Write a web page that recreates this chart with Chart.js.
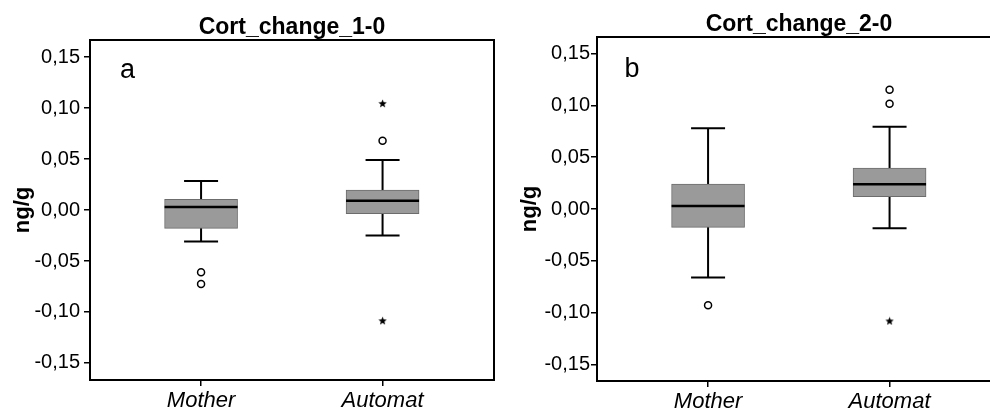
<!DOCTYPE html>
<html>
<head>
<meta charset="utf-8">
<script src="https://cdn.jsdelivr.net/npm/chart.js@4.4.0/dist/chart.umd.min.js"></script>
<style>
  html, body { margin: 0; padding: 0; background: #fff; overflow: hidden; width: 990px; height: 409px; }
  #panelA { position: absolute; left: 0; top: 0; }
  #panelB { position: absolute; left: 495px; top: 0; }
</style>
</head>
<body>
<canvas id="panelA" width="495" height="409"></canvas>
<canvas id="panelB" width="507" height="409"></canvas>
<script>
// ---- datos ----
const categories = ['Mother', 'Automat'];
const yTicks = [-0.15, -0.10, -0.05, 0, 0.05, 0.10, 0.15];

// Panel a: Cort_change_1-0
const aLow = [-0.031, -0.025];
const aQ1 = [-0.018, -0.0035];
const aMedian = [0.003, 0.009];
const aQ3 = [0.0105, 0.0195];
const aHigh = [0.0285, 0.049];
const aCircles = [[0, -0.061], [0, -0.0725], [1, 0.068]];
const aStars = [[1, 0.1045], [1, -0.1085]];

// Panel b: Cort_change_2-0
const bLow = [-0.066, -0.0185];
const bQ1 = [-0.0177, 0.012];
const bMedian = [0.003, 0.024];
const bQ3 = [0.024, 0.0395];
const bHigh = [0.078, 0.0795];
const bCircles = [[0, -0.093], [1, 0.1015], [1, 0.115]];
const bStars = [[1, -0.108]];

const FONT = "'Liberation Sans', Arial, sans-serif";

// estrella rellena de 5 puntas para los valores extremos
const starImg = document.createElement('canvas');
starImg.width = 9;
starImg.height = 9;
(() => {
    const g = starImg.getContext('2d');
    g.fillStyle = '#000';
    g.beginPath();
    for (let k = 0; k < 10; k++) {
        const r = k % 2 === 0 ? 4.4 : 1.9;
        const ang = -Math.PI / 2 + k * Math.PI / 5;
        const px = 4.5 + r * Math.cos(ang);
        const py = 4.9 + r * Math.sin(ang);
        if (k === 0) g.moveTo(px, py); else g.lineTo(px, py);
    }
    g.closePath();
    g.fill();
})();

// bigotes, mediana, marco y letra del panel
function boxPlugin(low, median, high, letter, letterDx, letterBase) {
    return {
        id: 'boxWhiskers',
        beforeDatasetsDraw(chart) {
            const { ctx, scales: { x, y } } = chart;
            ctx.save();
            ctx.strokeStyle = '#000';
            ctx.lineWidth = 2;
            categories.forEach((c, i) => {
                const cx = x.getPixelForValue(i);
                const yl = y.getPixelForValue(low[i]);
                const yh = y.getPixelForValue(high[i]);
                ctx.beginPath();
                ctx.moveTo(cx, yl); ctx.lineTo(cx, yh);
                ctx.moveTo(cx - 17, yl); ctx.lineTo(cx + 17, yl);
                ctx.moveTo(cx - 17, yh); ctx.lineTo(cx + 17, yh);
                ctx.stroke();
            });
            ctx.restore();
        },
        afterDatasetsDraw(chart) {
            const { ctx, scales: { y } } = chart;
            const bars = chart.getDatasetMeta(0).data;
            ctx.save();
            ctx.strokeStyle = '#000';
            ctx.lineWidth = 2.5;
            bars.forEach((bar, i) => {
                const ym = y.getPixelForValue(median[i]);
                ctx.beginPath();
                ctx.moveTo(bar.x - bar.width / 2, ym);
                ctx.lineTo(bar.x + bar.width / 2, ym);
                ctx.stroke();
            });
            ctx.restore();
        },
        afterDraw(chart) {
            const { ctx, chartArea: a } = chart;
            ctx.save();
            ctx.strokeStyle = '#000';
            ctx.lineWidth = 2;
            ctx.strokeRect(a.left, a.top, a.right - a.left, a.bottom - a.top);
            ctx.fillStyle = '#000';
            ctx.font = '27px ' + FONT;
            ctx.textAlign = 'center';
            ctx.textBaseline = 'alphabetic';
            ctx.fillText(letter, a.left + letterDx, letterBase);
            ctx.restore();
        }
    };
}

function buildPanel(canvasId, cfg) {
    const boxes = categories.map((c, i) => ({ x: i, y: [cfg.q1[i], cfg.q3[i]] }));
    const circles = cfg.circles.map(p => ({ x: p[0], y: p[1] }));
    const stars = cfg.stars.map(p => ({ x: p[0], y: p[1] }));

    new Chart(document.getElementById(canvasId), {
        type: 'bar',
        data: {
            datasets: [{
                data: boxes,
                backgroundColor: '#9a9a9a',
                borderColor: '#6c6c6c',
                borderWidth: 1,
                borderSkipped: false,
                barThickness: 73
            }, {
                type: 'scatter',
                data: circles,
                pointStyle: 'circle',
                radius: 3.5,
                backgroundColor: '#fff',
                borderColor: '#000',
                borderWidth: 1.5
            }, {
                type: 'scatter',
                data: stars,
                pointStyle: starImg,
                radius: 4.5
            }]
        },
        options: {
            responsive: false,
            animation: false,
            layout: { autoPadding: false, padding: { left: 0, right: 1, top: 0, bottom: 0 } },
            plugins: {
                legend: { display: false },
                tooltip: { enabled: false },
                title: {
                    display: true,
                    text: cfg.title,
                    fullSize: false,
                    color: '#000',
                    font: { family: FONT, size: 23, weight: 'bold', lineHeight: 1 },
                    padding: { top: cfg.titleTop, bottom: cfg.titleBottom }
                }
            },
            scales: {
                x: {
                    type: 'linear',
                    min: -0.612,
                    max: 1.614,
                    offset: false,
                    afterBuildTicks: (scale) => { scale.ticks = categories.map((c, i) => ({ value: i })); },
                    afterFit: (scale) => { scale.height = cfg.xHeight; },
                    ticks: {
                        color: '#000',
                        padding: 2,
                        maxRotation: 0,
                        font: { family: FONT, size: 22, style: 'italic' },
                        callback: (v) => categories[v]
                    },
                    grid: { offset: false, drawOnChartArea: false, drawTicks: true, tickLength: 6, color: '#000', lineWidth: 1.5 },
                    border: { display: false }
                },
                y: {
                    min: cfg.yMin,
                    max: cfg.yMax,
                    afterBuildTicks: (scale) => { scale.ticks = yTicks.map(v => ({ value: v })); },
                    afterFit: (scale) => { scale.width = cfg.yWidth; },
                    ticks: {
                        color: '#000',
                        padding: cfg.tickPad,
                        font: { family: FONT, size: 20 },
                        callback: (v) => v.toFixed(2).replace('.', ',')
                    },
                    grid: { drawOnChartArea: false, drawTicks: true, tickLength: 6, color: '#000', lineWidth: 1.5 },
                    border: { display: false },
                    title: {
                        display: true,
                        text: 'ng/g',
                        color: '#000',
                        font: { family: FONT, size: 22, weight: 'bold', lineHeight: 1.2 },
                        padding: { top: cfg.yTitlePad, bottom: 0 }
                    }
                }
            }
        },
        plugins: [boxPlugin(cfg.low, cfg.median, cfg.high, cfg.letter, cfg.letterDx, cfg.letterBase)]
    });
}

document.addEventListener('DOMContentLoaded', () => {
    buildPanel('panelA', {
        title: 'Cort_change_1-0', letter: 'a', letterDx: 37.5, letterBase: 78,
        low: aLow, q1: aQ1, median: aMedian, q3: aQ3, high: aHigh,
        circles: aCircles, stars: aStars,
        yMin: -0.1667, yMax: 0.1667, yWidth: 90, tickPad: 4, yTitlePad: 9.8,
        xHeight: 29, titleTop: 16.5, titleBottom: 0.5
    });
    buildPanel('panelB', {
        title: 'Cort_change_2-0', letter: 'b', letterDx: 35, letterBase: 77,
        low: bLow, q1: bQ1, median: bMedian, q3: bQ3, high: bHigh,
        circles: bCircles, stars: bStars,
        yMin: -0.166, yMax: 0.166, yWidth: 102, tickPad: 1, yTitlePad: 21.8,
        xHeight: 28, titleTop: 13.5, titleBottom: 0.5
    });
});
</script>
</body>
</html>
